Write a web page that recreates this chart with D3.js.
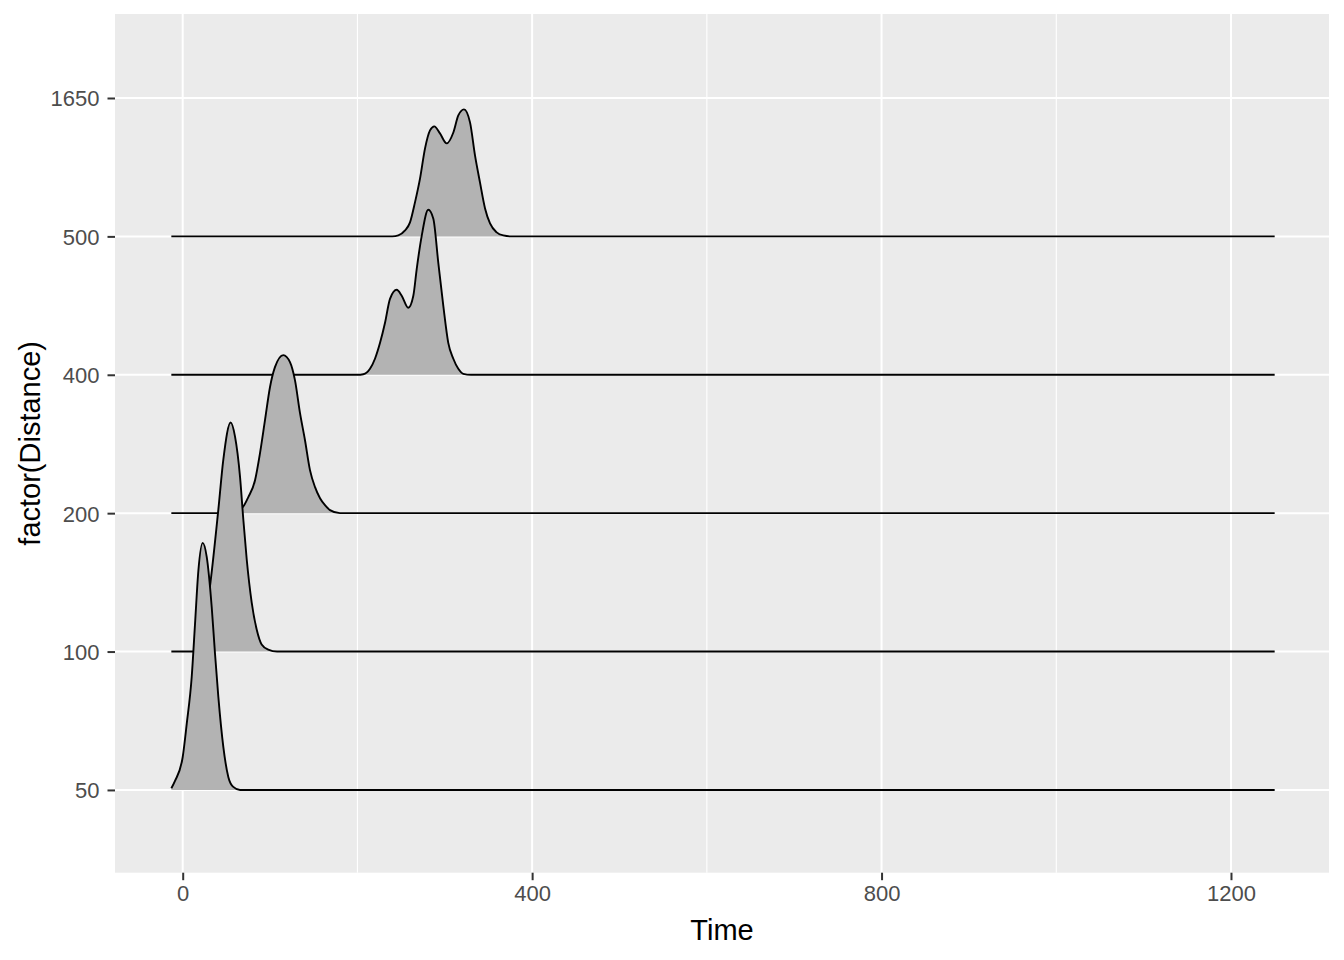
<!DOCTYPE html>
<html>
<head>
<meta charset="utf-8">
<script src="https://cdn.jsdelivr.net/npm/d3@7"></script>
<style>
  html, body { margin: 0; padding: 0; background: #ffffff; }
  svg { display: block; }
</style>
</head>
<body>
<svg id="chart" width="1344" height="960"></svg>
<script>
// ---------------- data ----------------
const categories = ["50", "100", "200", "400", "500", "1650"];
const xTicks = [0, 400, 800, 1200];
const xMinor = [200, 600, 1000];

// density profiles: time values and ridge heights (in category-step units)
const t50  = [-13, -8.8, 0, 4.6, 10.3, 14.1, 17.9, 22.9, 27.5, 33.2, 37, 40.8, 46.5, 52.2, 57.9, 65.6, 1250];
const h50  = [0.012, 0.065, 0.238, 0.477, 0.816, 1.199, 1.582, 1.785, 1.684, 1.322, 0.983, 0.672, 0.311, 0.094, 0.022, 0, 0];

const t100 = [-13, 5, 12, 15, 20, 25, 31.9, 40.8, 46.5, 54.9, 59.9, 65.6, 69.4, 73.3, 79, 84.7, 90.4, 97.9, 108, 1250];
const h100 = [0, 0, 0, 0.01, 0.06, 0.2, 0.506, 1.026, 1.387, 1.655, 1.553, 1.264, 0.954, 0.665, 0.354, 0.159, 0.051, 0.014, 0, 0];

const t200 = [-13, 50, 60, 68.7, 75.1, 82.8, 88.5, 94.2, 99.9, 105.6, 115.2, 122.8, 128.5, 134.3, 140, 145.7, 151.5, 157.2, 162.9, 168.6, 180, 1250];
const h200 = [0, 0, 0.014, 0.043, 0.116, 0.238, 0.434, 0.672, 0.910, 1.055, 1.142, 1.091, 0.961, 0.723, 0.527, 0.311, 0.188, 0.108, 0.058, 0.022, 0, 0];

const t400 = [-13, 200, 206.7, 214.4, 220.1, 225.9, 231.6, 237.3, 245, 250.7, 258.2, 264, 267.9, 273.6, 281.1, 286.9, 292.6, 298.3, 304, 309.8, 315.5, 321.2, 330, 1250];
const h400 = [0, 0, 0.004, 0.043, 0.116, 0.231, 0.376, 0.549, 0.614, 0.571, 0.484, 0.571, 0.766, 1.004, 1.192, 1.127, 0.809, 0.499, 0.231, 0.116, 0.043, 0.007, 0, 0];

const t500 = [-13, 240, 246.8, 254.5, 260.2, 265.9, 271.7, 277.4, 283.1, 288, 294.5, 302.2, 309.8, 315.5, 322, 328.9, 334.6, 340.3, 346.1, 351.8, 359.4, 367, 376.6, 1250];
const h500 = [0, 0, 0.007, 0.043, 0.101, 0.246, 0.419, 0.636, 0.766, 0.795, 0.744, 0.672, 0.751, 0.874, 0.918, 0.824, 0.585, 0.390, 0.202, 0.094, 0.029, 0.007, 0, 0];

const ridges = [
  { cat: "50",  t: t50,  h: h50 },
  { cat: "100", t: t100, h: h100 },
  { cat: "200", t: t200, h: h200 },
  { cat: "400", t: t400, h: h400 },
  { cat: "500", t: t500, h: h500 }
];

// ---------------- layout ----------------
const svg = d3.select("#chart");
const panel = { left: 115, right: 1329, top: 14, bottom: 872.7 };

const x = d3.scaleLinear().domain([-77.5, 1312.2]).range([panel.left, panel.right]);
const yIdx = d3.scaleLinear().domain([-0.598, 5.607]).range([panel.bottom, panel.top]);
const catIndex = c => categories.indexOf(c);

// panel background
svg.append("rect")
  .attr("x", panel.left).attr("y", panel.top)
  .attr("width", panel.right - panel.left).attr("height", panel.bottom - panel.top)
  .attr("fill", "#EBEBEB");

const grid = svg.append("g");
grid.selectAll(".vminor").data(xMinor).enter().append("line")
  .attr("x1", d => x(d)).attr("x2", d => x(d))
  .attr("y1", panel.top).attr("y2", panel.bottom)
  .attr("stroke", "#ffffff").attr("stroke-width", 1.1);
grid.selectAll(".vmajor").data(xTicks).enter().append("line")
  .attr("x1", d => x(d)).attr("x2", d => x(d))
  .attr("y1", panel.top).attr("y2", panel.bottom)
  .attr("stroke", "#ffffff").attr("stroke-width", 2);
grid.selectAll(".hmajor").data(categories).enter().append("line")
  .attr("x1", panel.left).attr("x2", panel.right)
  .attr("y1", d => yIdx(catIndex(d))).attr("y2", d => yIdx(catIndex(d)))
  .attr("stroke", "#ffffff").attr("stroke-width", 2);

// ---------------- ridges (top first, lower ridges drawn over) ----------------
const area = d3.area()
  .curve(d3.curveMonotoneX)
  .x(d => x(d.t))
  .y0(d => yIdx(d.base))
  .y1(d => yIdx(d.base + d.h));
const line = d3.line()
  .curve(d3.curveMonotoneX)
  .x(d => x(d.t))
  .y(d => yIdx(d.base + d.h));

const ridgeG = svg.append("g");
ridges.slice().sort((a, b) => catIndex(b.cat) - catIndex(a.cat)).forEach(r => {
  const base = catIndex(r.cat);
  const pts = r.t.map((t, i) => ({ t: t, h: r.h[i], base: base }));
  const g = ridgeG.append("g");
  g.append("path").attr("d", area(pts)).attr("fill", "#B3B3B3").attr("stroke", "none");
  g.append("path").attr("d", line(pts)).attr("fill", "none")
    .attr("stroke", "#000000").attr("stroke-width", 1.9).attr("stroke-linejoin", "round");
});

// ---------------- axes ----------------
const font = "'Liberation Sans', Arial, sans-serif";

const xAxis = d3.axisBottom(x).tickValues(xTicks).tickSize(7.5).tickPadding(4).tickFormat(d3.format("d"));
const gx = svg.append("g").attr("transform", `translate(0,${panel.bottom})`).call(xAxis);
gx.select(".domain").remove();
gx.selectAll(".tick line").attr("stroke", "#333333").attr("stroke-width", 2);
gx.selectAll(".tick text").attr("fill", "#4D4D4D").style("font-family", font).style("font-size", "22px")
  .attr("dy", "0.75em").attr("y", 12);

const yCat = d3.scalePoint().domain(categories).range([yIdx(0), yIdx(categories.length - 1)]);
const yAxis = d3.axisLeft(yCat).tickSize(7.5).tickPadding(4);
const gy = svg.append("g").attr("transform", `translate(${panel.left},0)`).call(yAxis);
gy.select(".domain").remove();
gy.selectAll(".tick line").attr("stroke", "#333333").attr("stroke-width", 2);
gy.selectAll(".tick text").attr("fill", "#4D4D4D").style("font-family", font).style("font-size", "22px")
  .attr("x", -15.5).attr("dy", "0.36em");

// axis titles
svg.append("text")
  .attr("x", (panel.left + panel.right) / 2).attr("y", 940)
  .attr("text-anchor", "middle")
  .style("font-family", font).style("font-size", "29px").attr("fill", "#000000")
  .text("Time");

svg.append("text")
  .attr("transform", `translate(40,${(panel.top + panel.bottom) / 2}) rotate(-90)`)
  .attr("text-anchor", "middle")
  .style("font-family", font).style("font-size", "29px").attr("fill", "#000000")
  .text("factor(Distance)");
</script>
</body>
</html>
